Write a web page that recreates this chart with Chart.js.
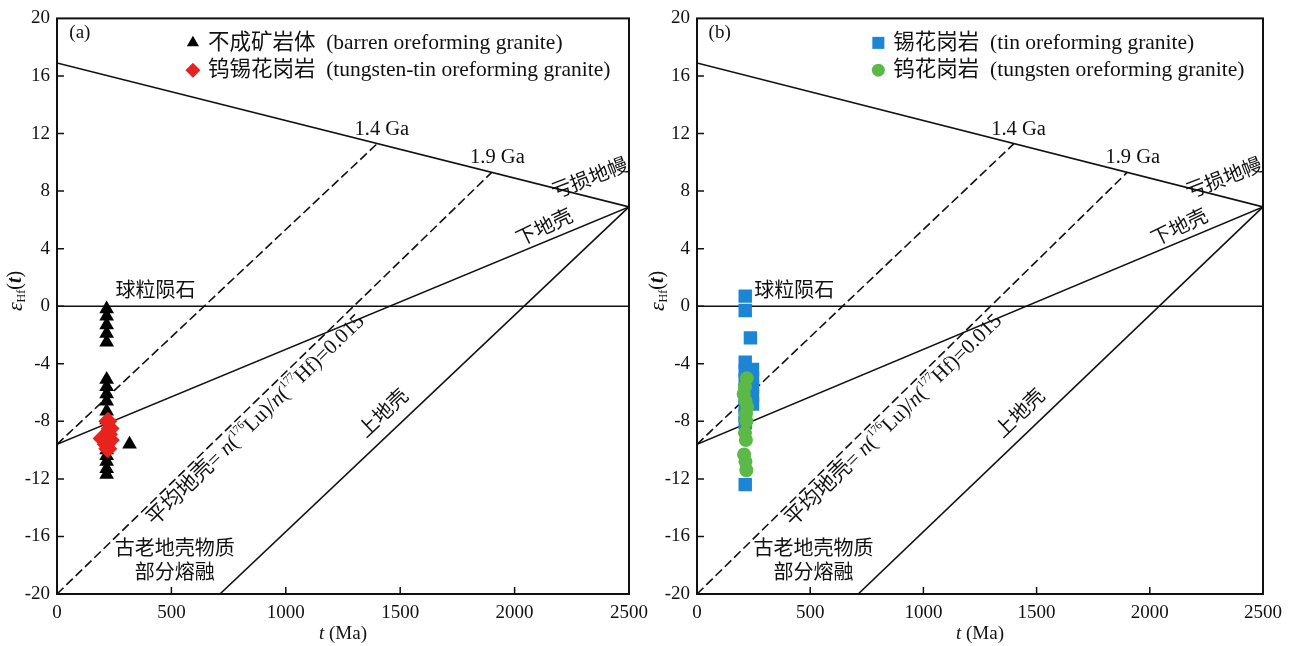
<!DOCTYPE html>
<html>
<head>
<meta charset="utf-8">
<script src="https://cdn.jsdelivr.net/npm/chart.js@4.4.1/dist/chart.umd.min.js"></script>
<style>
html, body { margin: 0; padding: 0; background: #fff; }
body { width: 1290px; height: 646px; position: relative; overflow: hidden; }
canvas { position: absolute; top: 0; }
#chartA { left: 0; }
#chartB { left: 640px; }
</style>
</head>
<body>
<canvas id="chartA" width="660" height="646"></canvas>
<canvas id="chartB" width="650" height="646"></canvas>
<script>
// model curves: [t (Ma), εHf]
const depletedMantle = [[0, 16.9], [2500, 6.9]];
const lowerCrust = [[0, -9.6], [2500, 6.9]];
const upperCrust = [[712, -20], [2500, 6.9]];
const chondrite = [[0, 0], [2500, 0]];
const avgCrust14 = [[0, -9.6], [1400, 11.3]];
const avgCrust19 = [[0, -20], [1900, 9.3]];

// (a) 不成矿岩体
const barrenT = [217, 217, 217, 217, 217, 217, 217, 217, 217, 217, 217, 217, 217, 217, 217, 217, 217, 217, 317];
const barrenE = [-0.2, -0.7, -1.3, -1.9, -2.5, -5.1, -5.6, -6.1, -6.6, -7.3, -7.9, -8.6, -9.3, -10.0, -10.4, -10.8, -11.3, -11.7, -9.6];
// (a) 钨锡花岗岩
const wSnT = [222, 232, 225, 197, 233, 215, 222];
const wSnE = [-8.0, -8.5, -8.9, -9.2, -9.3, -9.6, -9.9];

// (b) 锡花岗岩
const tinT = [213, 213, 236, 213, 213, 213, 213, 213, 213, 213, 213, 245, 245, 245, 245, 245, 213];
const tinE = [0.7, -0.3, -2.2, -3.9, -4.5, -5.1, -5.8, -6.4, -7.0, -7.6, -8.1, -4.4, -5.0, -5.6, -6.2, -6.8, -12.4];
// (b) 钨花岗岩
const wT = [220, 212, 206, 214, 222, 216, 218, 212, 216, 208, 214, 218];
const wE = [-5.0, -5.6, -6.1, -6.6, -7.0, -7.5, -8.0, -8.8, -9.3, -10.3, -10.8, -11.4];

const xTickValues = [0, 500, 1000, 1500, 2000, 2500];
const yTickValues = [-20, -16, -12, -8, -4, 0, 4, 8, 12, 16, 20];

const FONT = '"Liberation Serif", "Times New Roman", "Noto Sans CJK SC", serif';
const INK = '#111';

function toXY(pairs) { return pairs.map(p => ({ x: p[0], y: p[1] })); }
function zipXY(ts, es) { return ts.map((t, i) => ({ x: t, y: es[i] })); }

function curve(pairs, dashed) {
    return {
        data: toXY(pairs), showLine: true, pointRadius: 0,
        borderColor: INK, borderWidth: 1.6, borderDash: dashed ? [9, 4] : [],
        fill: false
    };
}

function fontFor(s, base) {
    return (s.it ? 'italic ' : '') + (s.b ? 'bold ' : '') + (s.size || base) + 'px ' + FONT;
}

function drawRich(ctx, segs, x, y, angle, base, align) {
    ctx.save();
    ctx.translate(x, y);
    ctx.rotate(angle || 0);
    ctx.textBaseline = 'middle';
    ctx.textAlign = 'left';
    ctx.fillStyle = INK;
    let total = 0;
    const widths = segs.map(s => { ctx.font = fontFor(s, base); const w = ctx.measureText(s.t).width; total += w; return w; });
    let cx = align === 'left' ? 0 : -total / 2;
    segs.forEach((s, i) => {
        ctx.font = fontFor(s, base);
        ctx.fillText(s.t, cx, s.dy || 0);
        cx += widths[i];
    });
    ctx.restore();
}

const avgCrustText = [
    { t: '平均地壳= ' }, { t: 'n', it: true }, { t: '(' }, { t: '176', size: 11, dy: -7 },
    { t: 'Lu)/' }, { t: 'n', it: true }, { t: '(' }, { t: '177', size: 11, dy: -7 }, { t: 'Hf)=0.015' }
];

// annotations shared by both panels (data coordinates)
const annotations = [
    { segs: [{ t: '1.4 Ga' }], t: 1420, e: 12.3, size: 20.5 },
    { segs: [{ t: '1.9 Ga' }], t: 1925, e: 10.3, size: 20.5 },
    { segs: [{ t: '亏损地幔' }], t: 2330, e: 8.8, size: 20, deg: -21 },
    { segs: [{ t: '下地壳' }], t: 2133, e: 5.4, size: 20, along: lowerCrust, extra: -3 },
    { segs: [{ t: '上地壳' }], t: 1430, e: -7.5, size: 20, along: upperCrust },
    { segs: avgCrustText, t: 870, e: -7.95, size: 21, along: avgCrust19 },
    { segs: [{ t: '球粒陨石' }], t: 430, e: 1.0, size: 20 },
    { segs: [{ t: '古老地壳物质' }], t: 515, e: -16.9, size: 20 },
    { segs: [{ t: '部分熔融' }], t: 515, e: -18.6, size: 20 }
];

function overlayPlugin(panel) {
    return {
        id: 'overlay',
        afterDraw(chart) {
            const { ctx, chartArea: a, scales: { x, y } } = chart;
            ctx.save();
            ctx.strokeStyle = INK;
            ctx.lineWidth = 2;
            ctx.strokeRect(a.left, a.top, a.right - a.left, a.bottom - a.top);
            ctx.lineWidth = 1.5;
            ctx.beginPath();
            xTickValues.slice(1, -1).forEach(v => {
                const px = x.getPixelForValue(v);
                ctx.moveTo(px, a.bottom); ctx.lineTo(px, a.bottom - 7);
            });
            yTickValues.slice(1, -1).forEach(v => {
                const py = y.getPixelForValue(v);
                ctx.moveTo(a.left, py); ctx.lineTo(a.left + 7, py);
            });
            ctx.stroke();
            ctx.restore();

            annotations.forEach(n => {
                let ang = 0;
                if (n.along) {
                    const p0 = n.along[0], p1 = n.along[1];
                    ang = Math.atan2(y.getPixelForValue(p1[1]) - y.getPixelForValue(p0[1]),
                        x.getPixelForValue(p1[0]) - x.getPixelForValue(p0[0]));
                    ang += (n.extra || 0) * Math.PI / 180;
                } else if (n.deg) {
                    ang = n.deg * Math.PI / 180;
                }
                drawRich(ctx, n.segs, x.getPixelForValue(n.t), y.getPixelForValue(n.e), ang, n.size);
            });

            // panel letter
            drawRich(ctx, [{ t: panel.letter }], x.getPixelForValue(100), y.getPixelForValue(19.0), 0, 19);

            // legend
            panel.legend.forEach(item => {
                const mx = x.getPixelForValue(item.t), my = y.getPixelForValue(item.e);
                ctx.save();
                ctx.fillStyle = item.color;
                ctx.strokeStyle = item.color;
                Chart.helpers.drawPoint(ctx, { pointStyle: item.style, radius: item.r, rotation: 0, borderWidth: 0 }, mx, my);
                ctx.restore();
                drawRich(ctx, item.segs, mx + 15, my, 0, 21.5, 'left');
            });

            // axis titles
            drawRich(ctx, [{ t: 't', it: true }, { t: ' (Ma)' }], (a.left + a.right) / 2, 634, 0, 19);
            drawRich(ctx, [{ t: 'ε', it: true, size: 22 }, { t: 'Hf', size: 12, dy: 6 }, { t: '(' }, { t: 't', it: true, b: true }, { t: ')' }],
                panel.yTitleX, 291, -Math.PI / 2, 20);
        }
    };
}

function makePanel(id, panel) {
    const canvas = document.getElementById(id);
    const rightPad = canvas.width - 57 - panel.plotWidth;
    const tickFont = { family: FONT, size: 19 };
    return new Chart(canvas, {
        type: 'scatter',
        data: {
            datasets: panel.points.concat([
                curve(depletedMantle), curve(lowerCrust), curve(upperCrust), curve(chondrite),
                curve(avgCrust14, true), curve(avgCrust19, true)
            ])
        },
        options: {
            responsive: false,
            animation: false,
            devicePixelRatio: 1,
            layout: { padding: { top: 17, right: rightPad, left: 0, bottom: 0 } },
            plugins: { legend: { display: false }, tooltip: { enabled: false } },
            scales: {
                x: {
                    type: 'linear', min: 0, max: 2500,
                    afterBuildTicks: s => { s.ticks = xTickValues.map(v => ({ value: v })); },
                    afterFit: s => { s.height = 52; },
                    ticks: { font: tickFont, color: INK, padding: 8, maxRotation: 0, callback: v => String(v) },
                    grid: { display: false, drawTicks: false },
                    border: { display: false }
                },
                y: {
                    type: 'linear', min: -20, max: 20,
                    afterBuildTicks: s => { s.ticks = yTickValues.map(v => ({ value: v })); },
                    afterFit: s => { s.width = 57; },
                    ticks: { font: tickFont, color: INK, padding: 7, callback: v => String(v) },
                    grid: { display: false, drawTicks: false },
                    border: { display: false }
                }
            }
        },
        plugins: [overlayPlugin(panel)]
    });
}

const RED = '#e8231e', BLUE = '#1d86d4', GREEN = '#5cb947';

makePanel('chartA', {
    letter: '(a)',
    plotWidth: 572,
    yTitleX: 16,
    points: [
        { data: zipXY(wSnT, wSnE), pointStyle: 'rectRot', pointRadius: 9.5, backgroundColor: RED, borderColor: RED, borderWidth: 0 },
        { data: zipXY(barrenT, barrenE), pointStyle: 'triangle', pointRadius: 8.5, backgroundColor: '#000', borderColor: '#000', borderWidth: 0 }
    ],
    legend: [
        { t: 594, e: 18.3, style: 'triangle', r: 7, color: '#000', segs: [{ t: '不成矿岩体  (barren oreforming granite)' }] },
        { t: 594, e: 16.4, style: 'rectRot', r: 7.5, color: RED, segs: [{ t: '钨锡花岗岩  (tungsten-tin oreforming granite)' }] }
    ]
});

makePanel('chartB', {
    letter: '(b)',
    plotWidth: 571,
    yTitleX: 18,
    points: [
        { data: zipXY(wT, wE), pointStyle: 'circle', pointRadius: 7, backgroundColor: GREEN, borderColor: GREEN, borderWidth: 0 },
        { data: zipXY(tinT, tinE), pointStyle: 'rect', pointRadius: 9.5, backgroundColor: BLUE, borderColor: BLUE, borderWidth: 0 }
    ],
    legend: [
        { t: 801, e: 18.3, style: 'rect', r: 8.5, color: BLUE, segs: [{ t: '锡花岗岩  (tin oreforming granite)' }] },
        { t: 801, e: 16.4, style: 'circle', r: 6.5, color: GREEN, segs: [{ t: '钨花岗岩  (tungsten oreforming granite)' }] }
    ]
});
</script>
</body>
</html>
